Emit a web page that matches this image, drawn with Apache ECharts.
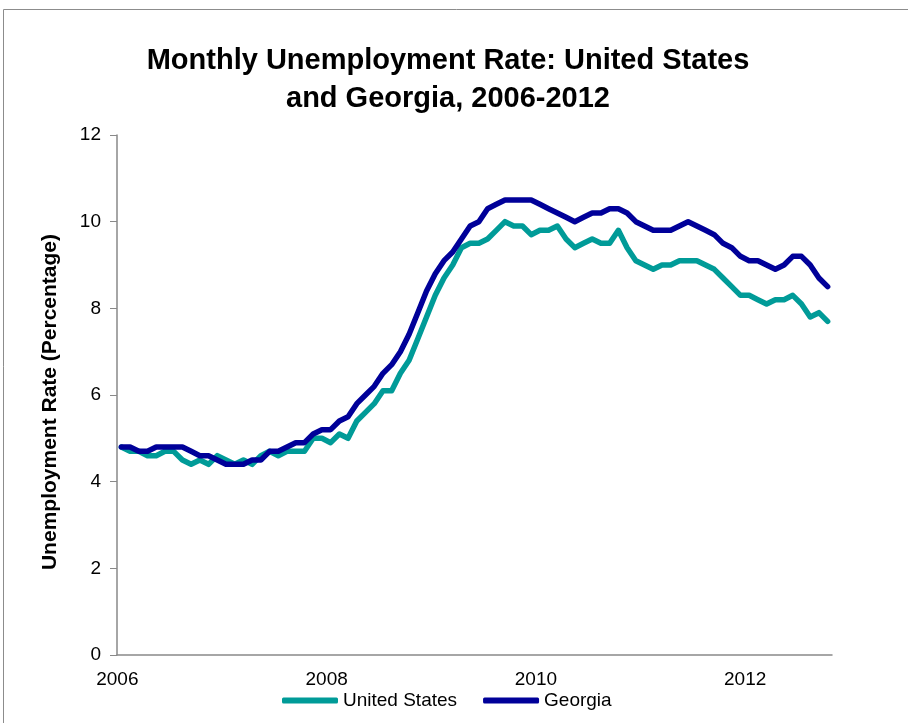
<!DOCTYPE html>
<html>
<head>
<meta charset="utf-8">
<title>Monthly Unemployment Rate: United States and Georgia</title>
<style>
  html, body { margin: 0; padding: 0; background: #fff; }
  #chart { width: 908px; height: 723px; }
</style>
</head>
<body>
<div id="chart"></div>
<script src="https://cdn.jsdelivr.net/npm/echarts@6/dist/echarts.min.js"></script>
<script type="text/javascript">
  // months shown: Feb 2006 .. Nov 2012 (82 points)
  var months = [];
  for (var y = 2006; y <= 2012; y++) {
    for (var m = 1; m <= 12; m++) {
      months.push(y + '-' + (m < 10 ? '0' : '') + m);
    }
  }
  months = months.slice(1, 83);

  var yearLabels = ['2006', '2008', '2010', '2012'];

  // unemployment rate, percent
  var usRate = [
    4.8, 4.7, 4.7, 4.6, 4.6, 4.7, 4.7, 4.5, 4.4, 4.5, 4.4,
    4.6, 4.5, 4.4, 4.5, 4.4, 4.6, 4.7, 4.6, 4.7, 4.7, 4.7, 5.0,
    5.0, 4.9, 5.1, 5.0, 5.4, 5.6, 5.8, 6.1, 6.1, 6.5, 6.8, 7.3,
    7.8, 8.3, 8.7, 9.0, 9.4, 9.5, 9.5, 9.6, 9.8, 10.0, 9.9, 9.9,
    9.7, 9.8, 9.8, 9.9, 9.6, 9.4, 9.5, 9.6, 9.5, 9.5, 9.8, 9.4,
    9.1, 9.0, 8.9, 9.0, 9.0, 9.1, 9.1, 9.1, 9.0, 8.9, 8.7, 8.5,
    8.3, 8.3, 8.2, 8.1, 8.2, 8.2, 8.3, 8.1, 7.8, 7.9, 7.7
  ];

  var gaRate = [
    4.8, 4.8, 4.7, 4.7, 4.8, 4.8, 4.8, 4.8, 4.7, 4.6, 4.6,
    4.5, 4.4, 4.4, 4.4, 4.5, 4.5, 4.7, 4.7, 4.8, 4.9, 4.9, 5.1,
    5.2, 5.2, 5.4, 5.5, 5.8, 6.0, 6.2, 6.5, 6.7, 7.0, 7.4, 7.9,
    8.4, 8.8, 9.1, 9.3, 9.6, 9.9, 10.0, 10.3, 10.4, 10.5, 10.5, 10.5,
    10.5, 10.4, 10.3, 10.2, 10.1, 10.0, 10.1, 10.2, 10.2, 10.3, 10.3, 10.2,
    10.0, 9.9, 9.8, 9.8, 9.8, 9.9, 10.0, 9.9, 9.8, 9.7, 9.5, 9.4,
    9.2, 9.1, 9.1, 9.0, 8.9, 9.0, 9.2, 9.2, 9.0, 8.7, 8.5
  ];

  var axisGray = '#898989';
  var font = '"Liberation Sans", Arial, sans-serif';

  var myChart = echarts.init(document.getElementById('chart'));
  var option = {
    backgroundColor: '#fff',
    animation: false,
    textStyle: { fontFamily: font },
    title: {
      text: 'Monthly Unemployment Rate: United States\nand Georgia, 2006-2012',
      left: 443,
      top: 37,
      textAlign: 'center',
      textStyle: {
        fontFamily: font,
        fontSize: 29,
        fontWeight: 'bold',
        color: '#000',
        lineHeight: 38
      }
    },
    graphic: [{
      type: 'rect',
      shape: { x: 3.5, y: 9.5, width: 920, height: 730 },
      style: { fill: null, stroke: '#8c8c8c', lineWidth: 1 },
      silent: true
    }],
    legend: {
      bottom: 8,
      left: 277,
      itemWidth: 56,
      itemHeight: 6,
      itemGap: 26,
      icon: 'roundRect',
      textStyle: { fontFamily: font, fontSize: 19, color: '#000' },
      data: ['United States', 'Georgia']
    },
    grid: { left: 117, right: 76, top: 135, bottom: 68 },
    xAxis: {
      type: 'category',
      data: months,
      boundaryGap: true,
      axisLine: { lineStyle: { color: axisGray, width: 1.5 } },
      axisTick: { interval: 0, length: 5, lineStyle: { color: axisGray, width: 1 } },
      axisLabel: {
        interval: function (i) { return i % 24 === 0; },
        formatter: function (v) {
          var yr = v.slice(0, 4);
          return yearLabels.indexOf(yr) >= 0 ? yr : '';
        },
        fontSize: 19,
        color: '#000',
        margin: 15,
        padding: [0, 8, 0, 0]
      },
      splitLine: { show: false }
    },
    yAxis: {
      type: 'value',
      min: 0,
      max: 12,
      interval: 2,
      name: 'Unemployment Rate (Percentage)',
      nameLocation: 'middle',
      nameGap: 56,
      nameTextStyle: {
        fontFamily: font,
        fontSize: 21,
        fontWeight: 'bold',
        color: '#000',
        padding: [0, 14, 0, 0]
      },
      axisLine: { show: true, lineStyle: { color: axisGray, width: 1.5 } },
      axisTick: { show: true, length: 7, lineStyle: { color: axisGray, width: 1 } },
      axisLabel: { fontSize: 19, color: '#000', margin: 16 },
      splitLine: { show: false }
    },
    series: [
      {
        name: 'United States',
        type: 'line',
        data: usRate,
        symbol: 'none',
        color: '#009B98',
        lineStyle: { width: 5.5, cap: 'round', join: 'round' }
      },
      {
        name: 'Georgia',
        type: 'line',
        data: gaRate,
        symbol: 'none',
        color: '#000099',
        lineStyle: { width: 5.5, cap: 'round', join: 'round' }
      }
    ]
  };
  myChart.setOption(option);
</script>
</body>
</html>
